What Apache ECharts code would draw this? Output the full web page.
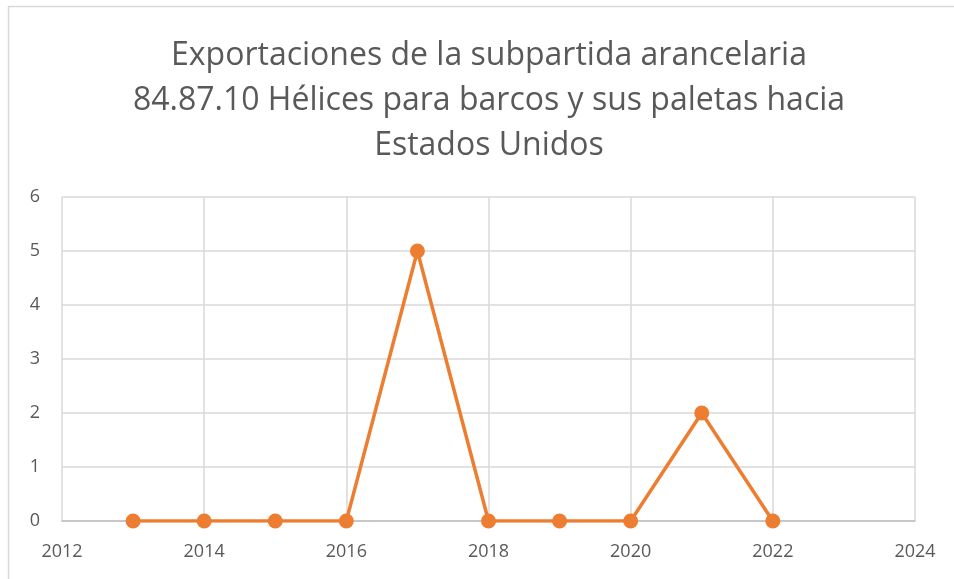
<!DOCTYPE html>
<html><head><meta charset="utf-8">
<script src="https://cdn.jsdelivr.net/npm/echarts@6/dist/echarts.min.js"></script>
<style>html,body{margin:0;padding:0;background:#fff}#c{width:954px;height:579px}</style>
</head><body><div id="c"></div>
<script>
const titleLines = ['Exportaciones de la subpartida arancelaria', '84.87.10 Hélices para barcos y sus paletas hacia', 'Estados Unidos'];
const years = [2013, 2014, 2015, 2016, 2017, 2018, 2019, 2020, 2021, 2022];
const values = [0, 0, 0, 0, 5, 0, 0, 0, 2, 0];
const xTicks = [2012, 2014, 2016, 2018, 2020, 2022, 2024];
const yTicks = [0, 1, 2, 3, 4, 5, 6];

const chart = echarts.init(document.getElementById('c'));
const font = 'Open Sans';
chart.setOption({
  animation: false,
  graphic: [
    {type:'rect', shape:{x:8.5,y:6.5,width:960,height:600}, style:{fill:'none',stroke:'#d9d9d9',lineWidth:1.5}},
    {type:'text', x: 489, y: 33, style:{text: titleLines.join('\n'), align:'center', verticalAlign:'top',
      font: 'normal 32px "Open Sans"', fill:'#595959', lineHeight: 45}}
  ],
  grid: {left: 62, right: 39, top: 197, bottom: 58},
  xAxis: {
    type: 'value', min: xTicks[0], max: xTicks[xTicks.length-1], interval: 2,
    axisLine: {show: true, lineStyle: {color: '#bfbfbf', width: 1.5}},
    axisTick: {show: false},
    splitLine: {show: true, lineStyle: {color: '#d9d9d9', width: 1.5}},
    axisLabel: {fontFamily: font, fontSize: 18, color: '#595959', margin: 22, formatter: v => String(v)}
  },
  yAxis: {
    type: 'value', min: yTicks[0], max: yTicks[yTicks.length-1], interval: 1,
    axisLine: {show: false}, axisTick: {show: false},
    splitLine: {show: true, lineStyle: {color: '#d9d9d9', width: 1.5}},
    axisLabel: {fontFamily: font, fontSize: 18, color: '#595959', margin: 22}
  },
  series: [{
    type: 'line', data: years.map((y,i)=>[y, values[i]]),
    symbol: 'circle', symbolSize: 15,
    lineStyle: {color: '#ED7D31', width: 3.5},
    itemStyle: {color: '#ED7D31'}
  }]
});
</script></body></html>
